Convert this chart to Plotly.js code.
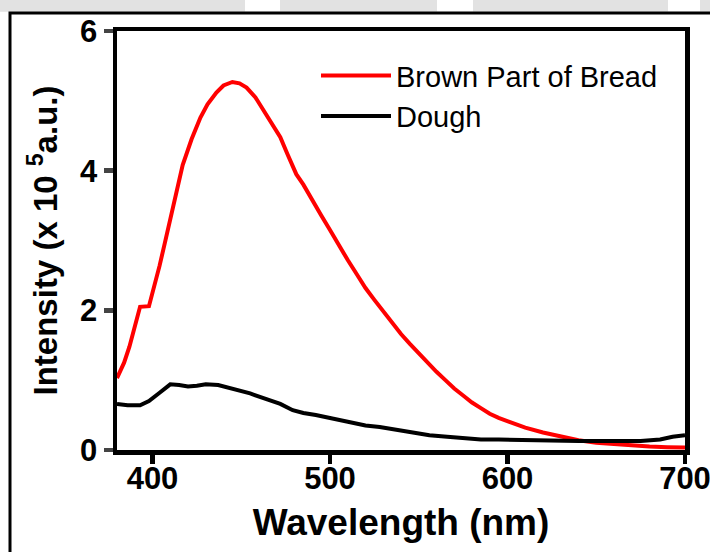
<!DOCTYPE html>
<html>
<head>
<meta charset="utf-8">
<script src="https://cdn.plot.ly/plotly-3.0.1.min.js"></script>
<style>
html,body{margin:0;padding:0;background:#fff;}
#chart{width:710px;height:552px;}
</style>
</head>
<body>
<div id="chart"></div>
<script>
// Brown Part of Bread
const breadWavelength = [380,384,387,390,393,398,401,404,407,410,413,417,422,427,431,436,440,445,449,453,458,464,468,472,476,481,485,490,495,500,505,510,515,520,525,530,535,540,545,550,555,560,565,570,575,580,585,590,595,600,610,620,630,640,650,660,670,680,690,700];
const breadIntensity  = [1.03,1.25,1.48,1.78,2.05,2.06,2.33,2.64,2.97,3.29,3.66,4.08,4.45,4.76,4.95,5.12,5.22,5.27,5.25,5.19,5.05,4.81,4.65,4.48,4.24,3.95,3.80,3.57,3.36,3.15,2.93,2.72,2.52,2.32,2.15,1.98,1.82,1.66,1.52,1.38,1.25,1.12,1.00,0.88,0.78,0.68,0.60,0.52,0.46,0.41,0.32,0.25,0.19,0.14,0.105,0.085,0.065,0.05,0.04,0.035];
// Dough
const doughWavelength = [380,386,393,398,404,410,415,420,425,430,437,445,455,465,472,479,485,492,500,511,520,528,539,547,556,566,575,585,595,610,622,640,660,675,686,693,700];
const doughIntensity  = [0.66,0.64,0.64,0.70,0.82,0.94,0.93,0.91,0.92,0.94,0.93,0.88,0.81,0.72,0.66,0.57,0.53,0.50,0.46,0.40,0.35,0.33,0.28,0.24,0.21,0.19,0.17,0.15,0.15,0.14,0.13,0.13,0.13,0.13,0.15,0.19,0.21];

const seriesNames = ['Brown Part of Bread','Dough'];
const xRange = [380,700];
const xTicks = [400,500,600,700];
const yTicks = [0,2,4,6];

const traces = [
  {x: breadWavelength, y: breadIntensity, name: seriesNames[0], type:'scatter', mode:'lines',
   line:{color:'#ff0000', width:4, shape:'linear'}},
  {x: doughWavelength, y: doughIntensity, name: seriesNames[1], type:'scatter', mode:'lines',
   xaxis:'x2', line:{color:'#000000', width:4, shape:'linear'}}
];

const shapes = [
  // light gray top strip (watermark)
  {type:'rect', xref:'paper', yref:'paper', x0:-0.21, x1:1.05, y0:1.046, y1:1.08, fillcolor:'#e2e2e2', line:{width:0}, layer:'below'},
  {type:'rect', xref:'paper', yref:'paper', x0:(245-117)/568, x1:(280-117)/568, y0:1.046, y1:1.08, fillcolor:'#ffffff', line:{width:0}, layer:'below'},
  {type:'rect', xref:'paper', yref:'paper', x0:(437-117)/568, x1:(473-117)/568, y0:1.046, y1:1.08, fillcolor:'#ffffff', line:{width:0}, layer:'below'},
  {type:'rect', xref:'paper', yref:'paper', x0:(668-117)/568, x1:(700-117)/568, y0:1.046, y1:1.08, fillcolor:'#ffffff', line:{width:0}, layer:'below'},
  // outer frame
  {type:'path', xref:'paper', yref:'paper',
   path:'M ' + ((10-117)/568) + ',' + ((450-560)/418) + ' L ' + ((10-117)/568) + ',' + ((450-14)/418) + ' L ' + ((720-117)/568) + ',' + ((450-14)/418),
   line:{color:'#000', width:3}}
];

const layout = {
  width:710, height:552,
  margin:{l:117, r:25, t:31, b:102},
  paper_bgcolor:'#ffffff', plot_bgcolor:'#ffffff',
  font:{family:'Liberation Sans, Arial, sans-serif', color:'#000'},
  showlegend:true,
  legend:{x:(316-117)/568, y:(450-51)/418, xanchor:'left', yanchor:'top',
          bgcolor:'rgba(0,0,0,0)', font:{size:29, family:'Liberation Sans, Arial, sans-serif'},
          itemwidth:70, tracegroupgap:0},
  // main x axis: frame line + tick marks
  xaxis:{range:xRange, tickvals:xTicks, ticks:'outside', ticklen:9, tickwidth:4.5, tickcolor:'#000',
         showticklabels:false,
         showline:true, linewidth:4.5, linecolor:'#000', mirror:true, showgrid:false, zeroline:false},
  // overlay x axis: tick labels + title
  xaxis2:{range:xRange, overlaying:'x', side:'bottom', anchor:'free', position:0,
          tickvals:xTicks, ticks:'', ticklabelstandoff:7,
          showline:false, showgrid:false, zeroline:false,
          ticklabeloverflow:'allow',
          tickfont:{size:31, family:'Liberation Sans, Arial, sans-serif', weight:'bold'},
          title:{text:'<b>Wavelength (nm)</b>', font:{size:37}, standoff:14}},
  yaxis:{range:[0,6], tickvals:yTicks, ticks:'outside', ticklen:9, tickwidth:4.5,
         showline:true, linewidth:4.5, linecolor:'#000', mirror:true, showgrid:false, zeroline:false,
         tickfont:{size:31, family:'Liberation Sans, Arial, sans-serif', weight:'bold'},
         title:{text:'<b>Intensity (x 10 <sup>5</sup>a.u.)</b>', font:{size:33}, standoff:14}},
  shapes: shapes
};

Plotly.newPlot('chart', traces, layout, {staticPlot:true, displayModeBar:false});
</script>
</body>
</html>
